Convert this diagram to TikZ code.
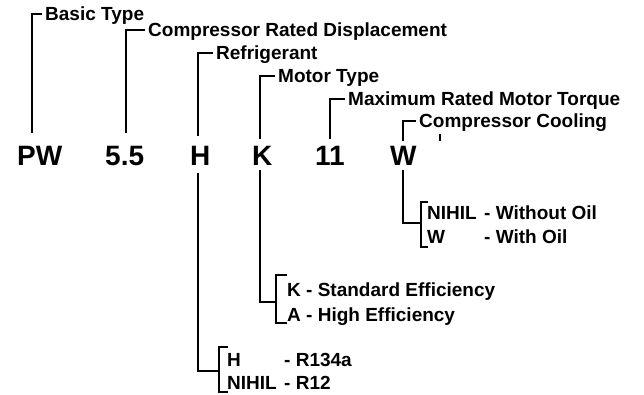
\documentclass[tikz,border=0pt]{standalone}
\usepackage{fontspec}
\setmainfont{Liberation Sans}
\begin{document}
\begin{tikzpicture}[x=1pt,y=-1pt,
  conn/.style={line width=2.6pt,line cap=butt,line join=miter},
  code/.style={anchor=base west,inner sep=0pt,font=\fontsize{28}{30}\selectfont\bfseries},
  lab/.style={anchor=west,inner xsep=3pt,inner ysep=0pt,text height=16pt,text depth=4pt,font=\fontsize{19}{21}\selectfont\bfseries},
  sub/.style={anchor=base west,inner sep=0pt,font=\fontsize{19}{21}\selectfont\bfseries}]
\useasboundingbox (0,0) rectangle (644,394);
% codes
\node[code] (pw) at (17,165) {PW};
\node[code] (dsp) at (105,165) {5.5};
\node[code] (ref) at (190,165) {H};
\node[code] (mot) at (252,165) {K};
\node[code] (trq) at (315,165) {11};
\node[code] (col) at (390,165) {W};
% labels
\node[lab] (basic) at (42,14) {Basic Type};
\node[lab] (crd) at (145,30) {Compressor Rated Displacement};
\node[lab] (refl) at (213,53) {Refrigerant};
\node[lab] (motl) at (275,76) {Motor Type};
\node[lab] (trql) at (345,99) {Maximum Rated Motor Torque};
\node[lab] (coll) at (416,121) {Compressor Cooling};
% stems
\coordinate (pwU) at (32,133);
\coordinate (dspU) at (126,133);
\coordinate (refU) at (198,136);
\coordinate (motU) at (260,139);
\coordinate (trqU) at (330,139);
\coordinate (colU) at (403,141);
\draw[conn] (pwU) |- (basic.west);
\draw[conn] (dspU) |- (crd.west);
\draw[conn] (refU) |- (refl.west);
\draw[conn] (motU) |- (motl.west);
\draw[conn] (trqU) |- (trql.west);
\draw[conn] (colU) |- (coll.west);
% small mark
\coordinate (m1) at (440,134);
\coordinate (m2) at (440,141);
\draw[line width=1.6pt] (m1) -- (m2);
% lower stems and brackets
\coordinate (colL) at (403,170);
\coordinate (colB) at (421,223);
\coordinate (colBt) at (421,202);
\coordinate (colBb) at (421,247);
\draw[conn] (colL) |- (colB);
\draw[conn] ([xshift=7pt]colBt) -- (colBt) -- (colBb) -- ([xshift=7pt]colBb);
\node[sub] (w1) at (427,219) {NIHIL};
\node[sub] (w1d) at (484,219) {- Without Oil};
\node[sub] (w2) at (427,243) {W};
\node[sub] (w2d) at (484,243) {- With Oil};

\coordinate (motL) at (260,170);
\coordinate (motB) at (276,302);
\coordinate (motBt) at (276,275);
\coordinate (motBb) at (276,323);
\draw[conn] (motL) |- (motB);
\draw[conn] ([xshift=11pt]motBt) -- (motBt) -- (motBb) -- ([xshift=11pt]motBb);
\node[sub] (k1) at (287,296) {K - Standard Efficiency};
\node[sub] (k2) at (287,321) {A - High Efficiency};

\coordinate (refL) at (198,173);
\coordinate (refB) at (219,371);
\coordinate (refBt) at (219,347);
\coordinate (refBb) at (219,392);
\draw[conn] (refL) |- (refB);
\draw[conn] ([xshift=9pt]refBt) -- (refBt) -- (refBb) -- ([xshift=9pt]refBb);
\node[sub] (h1) at (227,366) {H};
\node[sub] (h1d) at (284,366) {- R134a};
\node[sub] (h2) at (227,389) {NIHIL};
\node[sub] (h2d) at (284,389) {- R12};
\end{tikzpicture}
\end{document}
